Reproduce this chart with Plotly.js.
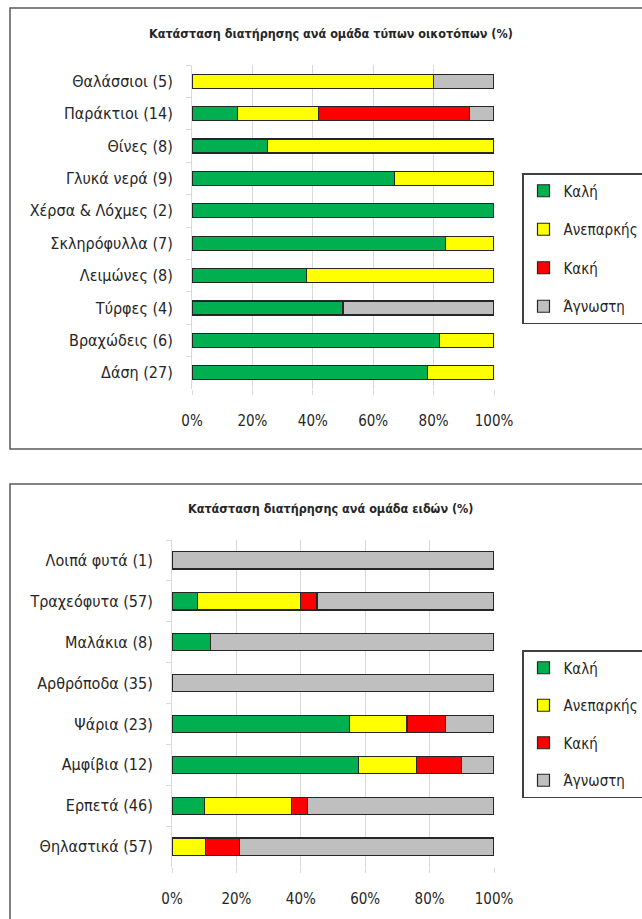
<!DOCTYPE html>
<html>
<head>
<meta charset="utf-8">
<script src="https://cdn.plot.ly/plotly-3.0.1.min.js"></script>
<style>html,body{margin:0;padding:0;background:#fff;overflow:hidden;}#chart{width:642px;height:919px;}</style>
</head>
<body>
<div id="chart"></div>
<script>
// ---- Data ----
const seriesNames = ["Καλή", "Ανεπαρκής", "Κακή", "Άγνωστη"];
const seriesColors = ["#00B050", "#FFFF00", "#FF0000", "#BFBFBF"];

const habitatCats = ["Θαλάσσιοι (5)", "Παράκτιοι (14)", "Θίνες (8)", "Γλυκά νερά (9)", "Χέρσα & Λόχμες (2)",
  "Σκληρόφυλλα (7)", "Λειμώνες (8)", "Τύρφες (4)", "Βραχώδεις (6)", "Δάση (27)"];
const habitatGood     = [0, 15, 25, 67, 100, 84, 38, 50, 82, 78];
const habitatPoor     = [80, 27, 75, 33, 0, 16, 62, 0, 18, 22];
const habitatBad      = [0, 50, 0, 0, 0, 0, 0, 0, 0, 0];
const habitatUnknown  = [20, 8, 0, 0, 0, 0, 0, 50, 0, 0];

const speciesCats = ["Λοιπά φυτά (1)", "Τραχεόφυτα (57)", "Μαλάκια (8)", "Αρθρόποδα (35)", "Ψάρια (23)",
  "Αμφίβια (12)", "Ερπετά (46)", "Θηλαστικά (57)"];
const speciesGood    = [0, 8, 12, 0, 55, 58, 10, 0];
const speciesPoor    = [0, 32, 0, 0, 18, 18, 27, 10.5];
const speciesBad     = [0, 5, 0, 0, 12, 14, 5, 10.5];
const speciesUnknown = [100, 55, 88, 100, 15, 10, 58, 79];

const xTicks = [0, 20, 40, 60, 80, 100];
const xTickLabels = ["0%", "20%", "40%", "60%", "80%", "100%"];
const title1 = "Κατάσταση διατήρησης ανά ομάδα τύπων οικοτόπων (%)";
const title2 = "Κατάσταση διατήρησης ανά ομάδα ειδών (%)";

// ---- Build ----
const W = 642, H = 919;
const py = y => 1 - y / H;
const px = x => x / W;
const FONT = "'DejaVu Sans Condensed', 'Liberation Sans', sans-serif";

const habitatVals = [habitatGood, habitatPoor, habitatBad, habitatUnknown];
const speciesVals = [speciesGood, speciesPoor, speciesBad, speciesUnknown];

const traces = [];
seriesNames.forEach((name, i) => {
  traces.push({
    type: "bar", orientation: "h", name: name,
    x: habitatVals[i], y: habitatCats, xaxis: "x", yaxis: "y",
    width: 0.43, legend: "legend", legendgroup: "a" + i,
    marker: {color: seriesColors[i], line: {color: "#262626", width: 1.2}},
    hoverinfo: "x+y+name"
  });
});
seriesNames.forEach((name, i) => {
  traces.push({
    type: "bar", orientation: "h", name: name,
    x: speciesVals[i], y: speciesCats, xaxis: "x2", yaxis: "y2",
    width: 0.42, legend: "legend2", legendgroup: "b" + i,
    marker: {color: seriesColors[i], line: {color: "#262626", width: 1.2}},
    hoverinfo: "x+y+name"
  });
});

function xAxis(domain, anchor) {
  return {
    domain: domain, anchor: anchor, range: [0, 100], fixedrange: true,
    tickmode: "array", tickvals: xTicks, ticktext: xTickLabels,
    showgrid: true, gridcolor: "#D9D9D9", gridwidth: 1,
    zeroline: false, showline: false,
    ticks: "outside", ticklen: 5, tickcolor: "#D9D9D9",
    ticklabelstandoff: 13,
    tickfont: {family: FONT, size: 15, color: "#262626"}
  };
}
function yAxis(domain, anchor) {
  return {
    domain: domain, anchor: anchor, autorange: "reversed", fixedrange: true,
    type: "category", showgrid: false, zeroline: false,
    showline: true, linecolor: "#D9D9D9", linewidth: 1,
    ticks: "outside", tickson: "boundaries", ticklen: 5, tickcolor: "#D9D9D9",
    ticklabelstandoff: 15,
    tickfont: {family: FONT, size: 16, color: "#262626"}
  };
}

const layout = {
  width: W, height: H,
  margin: {l: 0, r: 0, t: 0, b: 0, autoexpand: false},
  paper_bgcolor: "#fff", plot_bgcolor: "#fff",
  barmode: "stack", bargap: 0.56,
  font: {family: FONT, color: "#262626"},
  xaxis: xAxis([px(192), px(494)], "y"),
  yaxis: yAxis([py(389), py(65)], "x"),
  xaxis2: xAxis([px(172), px(494)], "y2"),
  yaxis2: yAxis([py(867), py(540)], "x2"),
  legend: {
    x: px(522), y: py(173), xanchor: "left", yanchor: "top",
    traceorder: "grouped", tracegroupgap: 16,
    bordercolor: "#404040", borderwidth: 1.5, bgcolor: "#fff",
    font: {family: FONT, size: 15, color: "#262626"},
    itemwidth: 30
  },
  legend2: {
    x: px(522), y: py(650), xanchor: "left", yanchor: "top",
    traceorder: "grouped", tracegroupgap: 15,
    bordercolor: "#404040", borderwidth: 1.5, bgcolor: "#fff",
    font: {family: FONT, size: 15, color: "#262626"},
    itemwidth: 30
  },
  annotations: [
    {text: "<b>" + title1 + "</b>", xref: "paper", yref: "paper", x: px(331), y: py(33),
     xanchor: "center", yanchor: "middle", showarrow: false,
     font: {family: FONT, size: 12.5, color: "#262626"}},
    {text: "<b>" + title2 + "</b>", xref: "paper", yref: "paper", x: px(331), y: py(508),
     xanchor: "center", yanchor: "middle", showarrow: false,
     font: {family: FONT, size: 12.5, color: "#262626"}}
  ],
  shapes: [
    {type: "rect", xref: "paper", yref: "paper", x0: px(10), x1: 1.02, y0: py(449), y1: py(8),
     line: {color: "#595959", width: 1.5}, fillcolor: "rgba(0,0,0,0)", layer: "below"},
    {type: "rect", xref: "paper", yref: "paper", x0: px(10), x1: 1.02, y0: -0.02, y1: py(484),
     line: {color: "#595959", width: 1.5}, fillcolor: "rgba(0,0,0,0)", layer: "below"}
  ]
};

Plotly.newPlot("chart", traces, layout, {displayModeBar: false, staticPlot: true});
</script>
</body>
</html>
